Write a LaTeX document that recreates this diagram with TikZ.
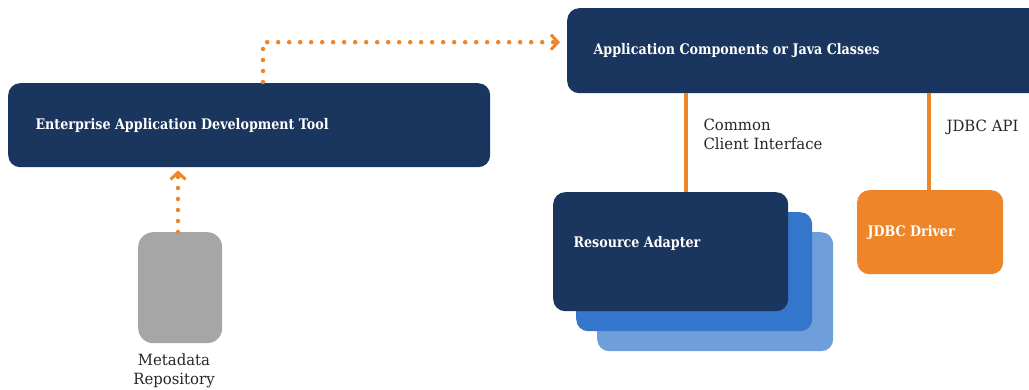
\documentclass[tikz,border=0pt]{standalone}
\usepackage{fontspec}
\setmainfont{DejaVu Serif}
\newfontfamily\titlefont[FakeStretch=0.87]{DejaVu Serif}
\newfontfamily\bodyfont[FakeStretch=0.96]{DejaVu Serif}
\usetikzlibrary{arrows.meta,positioning,calc}
\definecolor{navy}{HTML}{1A365F}
\definecolor{orng}{HTML}{EF8529}
\definecolor{midblue}{HTML}{3476CC}
\definecolor{ltblue}{HTML}{6F9FDA}
\definecolor{gry}{HTML}{A6A6A6}
\tikzset{
  box/.style={rounded corners=12pt, inner sep=0pt, anchor=north west},
  title/.style={font=\titlefont\fontsize{14.6}{18}\selectfont\bfseries, text=white},
  plain/.style={font=\bodyfont\fontsize{15.5}{19.5}\selectfont, text=black!85, align=left},
  dots/.style={draw=orng, line width=4.5pt, line cap=round, dash pattern=on 0pt off 11pt},
  chev/.style={-{Straight Barb[length=7pt,width=15pt,line width=3pt]}},
  conn/.style={draw=orng, line width=4pt},
}
\begin{document}
\begin{tikzpicture}[x=1pt,y=-1pt]
\useasboundingbox (0,0) rectangle (1029,390);
% Enterprise tool
\node[box, fill=navy, minimum width=482pt, minimum height=84pt] (eadt) at (8,83) {};
\node[title, anchor=west] (eadtt) at (eadt.west) [xshift=24pt] {Enterprise Application Development Tool};
% App components
\node[box, fill=navy, minimum width=475pt, minimum height=85pt] (app) at (567,8) {};
\node[title, anchor=west] (appt) at (app.west) [xshift=23pt] {Application Components or Java Classes};
% Metadata repository
\node[box, fill=gry, rounded corners=15pt, minimum width=84pt, minimum height=111pt] (md) at (138,232) {};
\node[plain, align=center, anchor=north] (mdl) at (174,350) {Metadata\\Repository};
% Resource adapter stack
\node[box, fill=ltblue, minimum width=236pt, minimum height=119pt] (ra3) at (597,232) {};
\node[box, fill=midblue, minimum width=236pt, minimum height=119pt] (ra2) at (576,212) {};
\node[box, fill=navy, minimum width=235pt, minimum height=119pt] (ra) at (553,192) {};
\node[title, anchor=west] (rat) at (ra.west) [xshift=17pt, yshift=8pt] {Resource Adapter};
% JDBC driver
\node[box, fill=orng, minimum width=146pt, minimum height=84pt] (jd) at (857,190) {};
\node[title, anchor=west] (jdt) at (jd.west) [xshift=7pt] {JDBC Driver};
% connectors
\coordinate (c1) at (686,0);
\coordinate (c2) at (929,0);
\coordinate (c3) at (263,0);
\coordinate (c4) at (178,0);
\draw[conn] (app.south -| c1) -- (ra.north -| c1);
\draw[conn] (app.south -| c2) -- (jd.north -| c2);
\node[plain, anchor=north west] (cci) at (700,115) {Common\\Client Interface};
\node[plain, anchor=north west] (japi) at (943,116) {JDBC API};
\draw[dots] ([yshift=1pt]eadt.north -| c3) |- ([xshift=-10pt,yshift=8.5pt]app.west);
\draw[orng, chev] ([xshift=-15pt,yshift=8.5pt]app.west) -- ([xshift=-7pt,yshift=8.5pt]app.west);
\draw[dots] (md.north -| c4) -- ([yshift=-8pt]eadt.south -| c4);
\draw[orng, chev] ([yshift=-11pt]eadt.south -| c4) -- ([yshift=-3pt]eadt.south -| c4);
\end{tikzpicture}
\end{document}
